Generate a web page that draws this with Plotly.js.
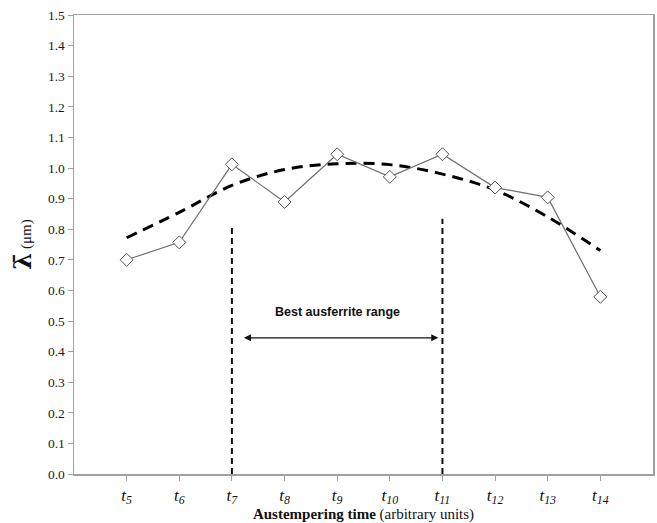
<!DOCTYPE html>
<html>
<head>
<meta charset="utf-8">
<script src="https://cdn.plot.ly/plotly-3.0.1.min.js"></script>
<style>html,body{margin:0;padding:0;background:#fff;}#chart{width:657px;height:523px;}</style>
</head>
<body>
<div id="chart"></div>
<script>
// categories (subscripts of t)
const timeLabels = ["5","6","7","8","9","10","11","12","13","14"];
const timePos = [1,2,3,4,5,6,7,8,9,10];
// measured mean lambda (µm)
const lambdaValues = [0.70, 0.757, 1.012, 0.889, 1.045, 0.971, 1.045, 0.936, 0.904, 0.579];
// trend curve
const trendValues = [0.772, 0.855, 0.943, 0.995, 1.014, 1.011, 0.980, 0.928, 0.840, 0.730];
// best-range boundary lines
const rangeX = [3, 7];
const rangeTop = [0.813, 0.834];
// arrow
const arrowStart = 3.2, arrowEnd = 6.92, arrowY = 0.445;
const rangeText = "Best ausferrite range";

const traces = [
  {
    x: timePos, y: trendValues, type: 'scatter', mode: 'lines',
    line: {color: '#000', width: 3, dash: '11px,7px', shape: 'spline'},
    hoverinfo: 'skip', showlegend: false
  },
  {
    x: timePos, y: lambdaValues, type: 'scatter', mode: 'lines+markers',
    line: {color: '#6e6e6e', width: 1.2},
    marker: {symbol: 'diamond', size: 10, color: '#ffffff', line: {color: '#555', width: 1}},
    showlegend: false
  }
];
rangeX.forEach((xv, i) => {
  traces.push({
    x: [xv, xv], y: [0, rangeTop[i]], type: 'scatter', mode: 'lines',
    line: {color: '#111', width: 2, dash: '6px,4px'},
    hoverinfo: 'skip', showlegend: false
  });
});

const serif = 'Liberation Serif, Times New Roman, serif';
const layout = {
  width: 657, height: 523,
  margin: {l: 74, r: 4, t: 15, b: 49},
  paper_bgcolor: '#fff', plot_bgcolor: '#fff',
  showlegend: false,
  xaxis: {
    range: [0, 11], tickvals: timePos,
    ticktext: timeLabels.map(s => '<i>t<sub>' + s + '</sub></i>'),
    showgrid: false, zeroline: false,
    showline: true, linecolor: '#a0a0a0', linewidth: 1.5, mirror: true,
    ticks: 'outside', ticklen: 5, tickcolor: '#a0a0a0',
    tickfont: {family: serif, size: 17, color: '#111'},
    title: {text: '<b>Austempering time</b> (arbitrary units)', font: {family: serif, size: 15, color: '#111'}, standoff: 5}
  },
  yaxis: {
    range: [0, 1.5], dtick: 0.1, tick0: 0, tickformat: '.1f',
    showgrid: false, zeroline: false,
    showline: true, linecolor: '#a0a0a0', linewidth: 1.5, mirror: true,
    ticks: 'outside', ticklen: 5, tickcolor: '#a0a0a0',
    tickfont: {family: serif, size: 13.5, color: '#1a1a1a'},
    title: {text: '<b><span style="font-family:DejaVu Serif;font-size:24px">λ̄</span></b> (μm)', font: {family: serif, size: 15, color: '#111'}, standoff: 12}
  },
  annotations: [
    {
      x: 5, y: 0.53, xref: 'x', yref: 'y', text: '<b>' + rangeText + '</b>',
      showarrow: false, font: {family: 'Liberation Sans, Arial, sans-serif', size: 12.5, color: '#111'}
    },
    {
      x: arrowEnd, y: arrowY, ax: arrowStart, ay: arrowY, xref: 'x', yref: 'y', axref: 'x', ayref: 'y',
      text: '', showarrow: true, arrowhead: 2, arrowside: 'end+start', arrowsize: 1, arrowwidth: 1.4, arrowcolor: '#111'
    }
  ]
};
Plotly.newPlot('chart', traces, layout, {displayModeBar: false, staticPlot: true});
</script>
</body>
</html>
